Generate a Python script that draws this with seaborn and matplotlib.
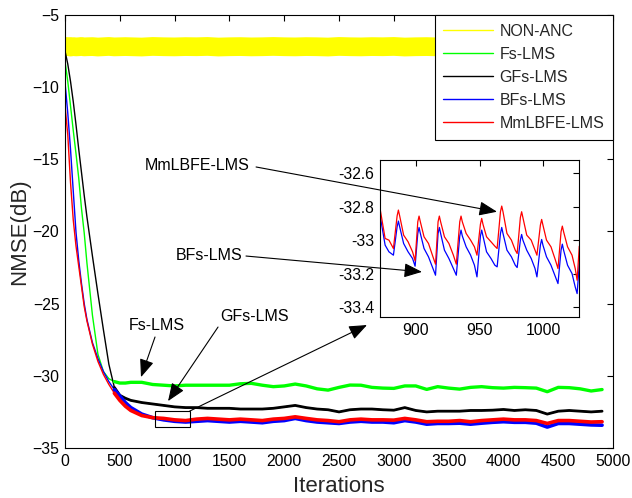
import matplotlib
matplotlib.use("Agg")
import matplotlib.pyplot as plt
from matplotlib.lines import Line2D
from matplotlib.patches import Rectangle
import pandas as pd
import seaborn as sns

# ---- learning curves (NMSE in dB vs. iteration) ----
iterations = [0, 25, 50, 75, 100, 125, 150, 175, 200, 250, 300, 350, 400, 450, 500, 550,
              600, 700, 800, 900, 1000, 1100, 1200, 1300, 1400, 1500, 1600, 1700, 1800,
              1900, 2000, 2100, 2200, 2300, 2400, 2500, 2600, 2700, 2800, 2900, 3000,
              3100, 3200, 3300, 3400, 3500, 3600, 3700, 3800, 3900, 4000, 4100, 4200,
              4300, 4400, 4500, 4600, 4700, 4800, 4900]

non_anc = [-7.20, -7.18, -7.22, -7.19, -7.21, -7.20, -7.18, -7.21, -7.20, -7.19, -7.22, -7.20,
           -7.18, -7.21, -7.20, -7.19, -7.20, -7.22, -7.18, -7.20, -7.21, -7.19, -7.20, -7.18,
           -7.22, -7.20, -7.19, -7.21, -7.20, -7.18, -7.20, -7.21, -7.19, -7.20, -7.22, -7.18,
           -7.20, -7.21, -7.19, -7.20, -7.18, -7.22, -7.20, -7.19, -7.21, -7.20, -7.18, -7.20,
           -7.21, -7.19, -7.20, -7.22, -7.18, -7.20, -7.21, -7.19, -7.20, -7.18, -7.22, -7.20]

fs_lms = [-8.2, -9.6, -11.3, -13.0, -14.6, -16.3, -18.4, -20.1, -22.2, -25.8, -28.5, -29.7,
          -30.2, -30.4, -30.5, -30.5, -30.45, -30.45, -30.6,
          -30.65, -30.7, -30.65, -30.65, -30.65, -30.65, -30.65, -30.55, -30.52, -30.65,
          -30.75, -30.7, -30.57, -30.7, -30.9, -30.99, -30.8, -30.64, -30.65, -30.8,
          -30.85, -30.87, -30.7, -30.7, -30.94, -30.75, -30.85, -30.92, -30.8, -30.75,
          -30.82, -30.85, -30.8, -30.82, -30.85, -31.1, -30.8, -30.82, -30.9, -31.05, -30.95]

gfs_lms = [-7.5, -8.4, -9.6, -11.0, -12.6, -14.3, -15.9, -17.5, -19.0, -21.7, -24.3, -26.8,
           -29.2, -30.8, -31.35, -31.55, -31.7, -31.85, -31.95,
           -32.05, -32.15, -32.2, -32.2, -32.25, -32.25, -32.25, -32.3, -32.3, -32.3,
           -32.25, -32.15, -32.05, -32.2, -32.3, -32.35, -32.5, -32.35, -32.3, -32.3,
           -32.35, -32.38, -32.2, -32.4, -32.5, -32.45, -32.45, -32.45, -32.4, -32.4,
           -32.38, -32.33, -32.4, -32.35, -32.4, -32.65, -32.45, -32.4, -32.45, -32.5, -32.45]

bfs_lms = [-9.7, -11.8, -14.3, -17.2, -20.05, -22.0, -23.6, -25.0, -26.1, -27.7, -28.8, -29.7,
           -30.4, -30.95, -31.4, -31.85, -32.2, -32.65, -32.9,
           -33.05, -33.15, -33.2, -33.15, -33.1, -33.15, -33.2, -33.15, -33.2, -33.25,
           -33.15, -33.1, -32.95, -33.1, -33.2, -33.25, -33.3, -33.2, -33.15, -33.2,
           -33.2, -33.25, -33.1, -33.2, -33.35, -33.3, -33.3, -33.28, -33.35, -33.28,
           -33.22, -33.18, -33.22, -33.22, -33.28, -33.55, -33.3, -33.3, -33.35, -33.4, -33.42]

mmlbfe_lms = [-11.3, -13.3, -16.6, -19.2, -21.0, -22.4, -23.8, -25.2, -26.2, -27.8, -29.0, -29.9,
              -30.6, -31.2, -31.7, -32.1, -32.4, -32.75, -32.9,
              -32.95, -33.05, -33.1, -33.0, -32.95, -33.0, -33.05, -33.0, -33.05, -33.1,
              -33.0, -32.95, -32.84, -32.95, -33.05, -33.1, -33.18, -33.05, -33.0, -33.05,
              -33.05, -33.07, -32.95, -33.05, -33.18, -33.15, -33.15, -33.1, -33.18, -33.1,
              -33.05, -33.0, -33.05, -33.05, -33.1, -33.3, -33.1, -33.1, -33.15, -33.2, -33.18]

# ---- detail of iterations 872..1028 ----
zoom_iterations = [872, 876, 879, 882.5,
                   885.4, 886.4, 887.4, 890.5, 894, 897.5, 899.5,
                   901.6, 902.6, 903.6, 906.5, 910, 913.5, 915.5,
                   917.5, 918.5, 919.5, 922.5, 926, 929.5, 931.8,
                   934.5, 935.5, 936.5, 939.5, 943, 946, 948,
                   950.7, 951.7, 952.7, 955.5, 959, 962, 963.8,
                   966.4, 967.4, 968.4, 971.5, 975, 978, 979.5,
                   982, 983, 984, 987, 990.5, 993.5, 995,
                   997.7, 998.7, 999.7, 1002.5, 1006, 1009.5, 1011.5,
                   1013.9, 1014.9, 1015.9, 1019, 1022.5, 1025, 1026.5,
                   1028.2]

zoom_mmlbfe = [-32.81, -32.99, -33.0, -33.05,
               -32.855, -32.82, -32.855, -32.97, -33.01, -33.07, -33.124,
               -32.89, -32.856, -32.89, -32.98, -33.02, -33.10, -33.144,
               -32.89, -32.856, -32.89, -32.98, -33.02, -33.09, -33.144,
               -32.89, -32.856, -32.89, -32.96, -33.0, -33.04, -33.09,
               -32.905, -32.87, -32.905, -32.98, -33.01, -33.036, -33.05,
               -32.83, -32.796, -32.83, -32.96, -33.0, -33.06, -33.08,
               -32.865, -32.83, -32.865, -32.97, -33.0, -33.06, -33.09,
               -32.91, -32.876, -32.91, -33.0, -33.04, -33.12, -33.17,
               -32.95, -32.916, -32.95, -33.04, -33.09, -33.17, -33.24,
               -33.036]

zoom_bfs = [-32.85, -33.03, -33.07, -33.09,
            -32.92, -32.886, -32.92, -33.02, -33.07, -33.11, -33.156,
            -32.96, -32.924, -32.96, -33.05, -33.10, -33.17, -33.21,
            -32.96, -32.924, -32.96, -33.06, -33.11, -33.17, -33.21,
            -32.975, -32.94, -32.975, -33.04, -33.09, -33.15, -33.22,
            -32.975, -32.94, -32.975, -33.07, -33.11, -33.15, -33.16,
            -32.96, -32.924, -32.96, -33.06, -33.10, -33.15, -33.164,
            -33.0, -32.966, -33.0, -33.06, -33.11, -33.17, -33.22,
            -33.03, -32.996, -33.03, -33.10, -33.15, -33.22, -33.26,
            -33.06, -33.024, -33.06, -33.15, -33.20, -33.28, -33.32,
            -33.14]

labels = ["NON-ANC", "Fs-LMS", "GFs-LMS", "BFs-LMS", "MmLBFE-LMS"]
colors = ["#ffff00", "#00ff00", "#000000", "#0000ff", "#ff0000"]
palette = dict(zip(labels, colors))

sns.set_style("white", {"axes.edgecolor": "black",
                        "xtick.direction": "in", "ytick.direction": "in"})
plt.rcParams["font.family"] = ["Liberation Sans", "DejaVu Sans"]

series = [non_anc, fs_lms, gfs_lms, bfs_lms, mmlbfe_lms]
df = pd.concat([pd.DataFrame({"Iterations": iterations, "NMSE": vals, "Algorithm": name})
                for name, vals in zip(labels, series)], ignore_index=True)

zoom_df = pd.concat([
    pd.DataFrame({"Iterations": zoom_iterations, "NMSE": zoom_bfs, "Algorithm": "BFs-LMS"}),
    pd.DataFrame({"Iterations": zoom_iterations, "NMSE": zoom_mmlbfe, "Algorithm": "MmLBFE-LMS"}),
], ignore_index=True)

fig = plt.figure(figsize=(6.32, 4.98), dpi=100)
ax = fig.add_axes([0.1029, 0.1004, 0.8671, 0.8695])

# whole run: the NON-ANC trace is a dense ripple band
sns.lineplot(data=df, x="Iterations", y="NMSE", hue="Algorithm", size="Algorithm",
             hue_order=labels, size_order=labels, palette=palette,
             sizes={"NON-ANC": 13.5, "Fs-LMS": 1.0, "GFs-LMS": 1.0,
                    "BFs-LMS": 1.0, "MmLBFE-LMS": 1.0},
             estimator=None, legend=False, ax=ax)

# converged part: misadjustment noise makes the traces look thicker
steady = df[(df["Iterations"] >= 450) & (df["Algorithm"] != "NON-ANC")]
sns.lineplot(data=steady, x="Iterations", y="NMSE", hue="Algorithm", size="Algorithm",
             hue_order=labels[1:], size_order=labels[1:], palette=palette,
             sizes={"Fs-LMS": 2.4, "GFs-LMS": 2.0, "BFs-LMS": 2.6, "MmLBFE-LMS": 2.6},
             estimator=None, legend=False, ax=ax)

ax.set_xlim(0, 5000)
ax.set_ylim(-35, -5)
ax.set_xticks(range(0, 5001, 500))
ax.set_yticks(range(-35, -4, 5))
ax.tick_params(direction="in", top=True, right=True, length=4, width=0.8,
               labelsize=11.3, pad=4, colors="black")
for s in ax.spines.values():
    s.set_linewidth(0.8)
    s.set_color("black")
ax.set_xlabel("Iterations", fontsize=16, labelpad=5.5)
ax.set_ylabel("NMSE(dB)", fontsize=16, labelpad=2)

handles = [Line2D([], [], color=c, lw=1.0) for c in colors]
leg = ax.legend(handles, labels, loc="upper right", bbox_to_anchor=(1.0, 1.0),
                borderaxespad=0, frameon=True, fancybox=False, framealpha=1,
                edgecolor="black", fontsize=11.5, handlelength=3.1,
                handletextpad=0.4, labelspacing=0.5, borderpad=0.55)
leg.get_frame().set_linewidth(0.8)

# region shown in the inset
ax.add_patch(Rectangle((818, -33.57), 320, 1.13, fill=False, ec="black", lw=0.8, zorder=4))

# inset
ins = fig.add_axes([0.6013, 0.3635, 0.3149, 0.3153])
sns.lineplot(data=zoom_df, x="Iterations", y="NMSE", hue="Algorithm",
             hue_order=["BFs-LMS", "MmLBFE-LMS"], palette=palette,
             estimator=None, legend=False, lw=0.9, ax=ins)
ins.set_xlim(872, 1028)
ins.set_ylim(-33.46, -32.52)
ins.set_xticks([900, 950, 1000])
ins.set_yticks([-33.4, -33.2, -33.0, -32.8, -32.6])
ins.set_yticklabels(["-33.4", "-33.2", "-33", "-32.8", "-32.6"])
ins.set_xlabel("")
ins.set_ylabel("")
ins.tick_params(direction="in", top=True, right=True, length=4, width=0.8,
                labelsize=11.3, pad=4, colors="black")
for s in ins.spines.values():
    s.set_linewidth(0.8)
    s.set_color("black")

# labels and arrows
text_kw = dict(fontsize=11.5, ha="left", va="center", color="black")
ax.text(730, -15.46, "MmLBFE-LMS", **text_kw)
ax.text(1013, -21.63, "BFs-LMS", **text_kw)
ax.text(584, -26.48, "Fs-LMS", **text_kw)
ax.text(1414, -25.86, "GFs-LMS", **text_kw)

arrow = dict(arrowstyle="-|>,head_length=0.55,head_width=0.22", color="black",
             lw=0.8, shrinkA=0, shrinkB=0, mutation_scale=20)

def draw_arrow(tail, tip, tip_axes):
    ins.annotate("", xy=tip, xycoords=tip_axes.transData,
                 xytext=tail, textcoords=ax.transData,
                 arrowprops=arrow, annotation_clip=False)

draw_arrow((1743, -15.53), (963.7, -32.83), ins)
draw_arrow((1651, -21.70), (904.9, -33.19), ins)
draw_arrow((821, -27.31), (693, -30.09), ax)
draw_arrow((1396, -26.62), (940, -31.75), ax)
draw_arrow((1138, -32.44), (2755, -26.48), ax)

fig.savefig("out.png", dpi=100)
